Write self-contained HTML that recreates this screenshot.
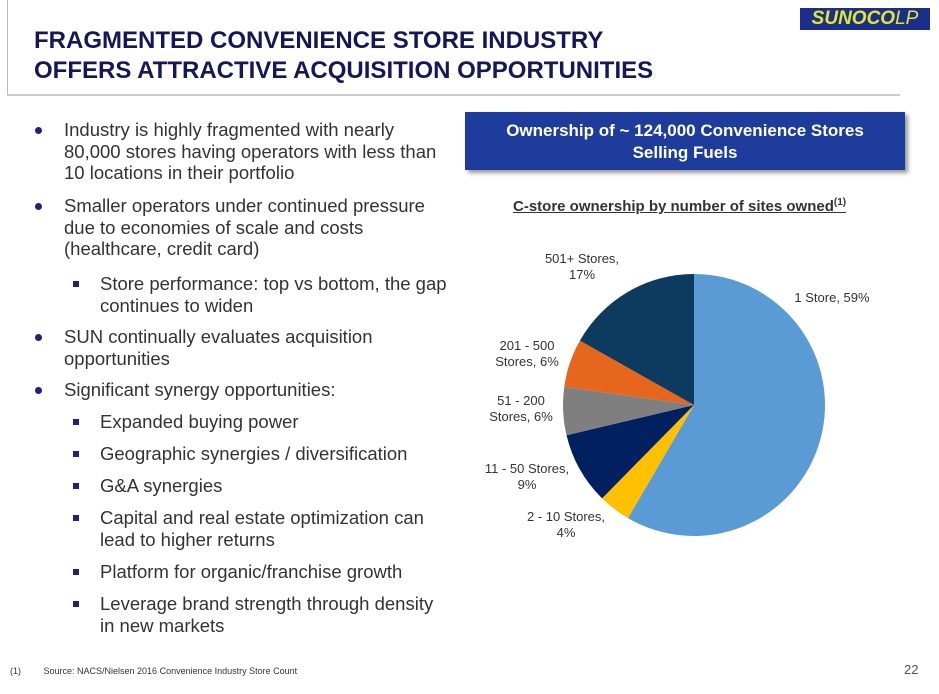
<!DOCTYPE html>
<html><head><meta charset="utf-8"><style>
body{margin:0;width:939px;height:694px;background:#fff;position:relative;overflow:hidden;font-family:"Liberation Sans",sans-serif}
.a{position:absolute;white-space:nowrap}
.t{font-size:18.5px;color:#333;line-height:21.5px}
.h{font-weight:bold;font-size:24px;color:#14185a}
.b{position:absolute;width:7px;height:7px;border-radius:50%;background:#1a237e}
.s{position:absolute;width:6px;height:6px;background:#1a237e}
</style></head><body>
<div class="a" style="left:7px;top:0;width:1px;height:95px;background:#bbb"></div>
<div class="a" style="left:7px;top:94px;width:893px;height:2px;background:#ccc"></div>
<div class="a h" style="left:34px;top:27px">FRAGMENTED CONVENIENCE STORE INDUSTRY</div>
<div class="a h" style="left:34px;top:57px">OFFERS ATTRACTIVE ACQUISITION OPPORTUNITIES</div>
<div class="a" style="left:800px;top:8px;width:130px;height:22px;background:#1c2e8c;color:#e2e82a;font-weight:bold;font-style:italic;font-size:19px;line-height:22px;text-align:center">SUNOCO<span style="font-weight:normal">LP</span></div>

<div>
<div class="b" style="left:35px;top:127px"></div>
<div class="a t" style="left:64px;top:119px">Industry is highly fragmented with nearly<br>80,000 stores having operators with less than<br>10 locations in their portfolio</div>
<div class="b" style="left:35px;top:203px"></div>
<div class="a t" style="left:64px;top:195px">Smaller operators under continued pressure<br>due to economies of scale and costs<br>(healthcare, credit card)</div>
<div class="s" style="left:73px;top:281px"></div>
<div class="a t" style="left:100px;top:273px">Store performance: top vs bottom, the gap<br>continues to widen</div>
<div class="b" style="left:35px;top:334px"></div>
<div class="a t" style="left:64px;top:326px">SUN continually evaluates acquisition<br>opportunities</div>
<div class="b" style="left:35px;top:387px"></div>
<div class="a t" style="left:64px;top:379px">Significant synergy opportunities:</div>
<div class="s" style="left:73px;top:419px"></div>
<div class="a t" style="left:100px;top:411px">Expanded buying power</div>
<div class="s" style="left:73px;top:451px"></div>
<div class="a t" style="left:100px;top:443px">Geographic synergies / diversification</div>
<div class="s" style="left:73px;top:483px"></div>
<div class="a t" style="left:100px;top:475px">G&amp;A synergies</div>
<div class="s" style="left:73px;top:515px"></div>
<div class="a t" style="left:100px;top:507px">Capital and real estate optimization can<br>lead to higher returns</div>
<div class="s" style="left:73px;top:569px"></div>
<div class="a t" style="left:100px;top:561px">Platform for organic/franchise growth</div>
<div class="s" style="left:73px;top:601px"></div>
<div class="a t" style="left:100px;top:593px">Leverage brand strength through density<br>in new markets</div>
</div>

<div class="a" style="left:465px;top:112px;width:440px;height:58px;background:#1d3c9c;box-shadow:3px 3px 4px #999;color:#fff;font-weight:bold;font-size:17px;line-height:22px;text-align:center;padding-top:8px;box-sizing:border-box">Ownership of ~ 124,000 Convenience Stores<br>Selling Fuels</div>
<div class="a" style="left:513px;top:197px;font-size:15px;font-weight:bold;color:#333;text-decoration:underline">C-store ownership by number of sites owned<sup style="font-size:10px">(1)</sup></div>

<svg class="a" style="left:0;top:0" width="939" height="694" id="pie"></svg>

<div class="a" style="left:10px;top:666px;font-size:9px;color:#333">(1)&nbsp;&nbsp;&nbsp;&nbsp;&nbsp;&nbsp;&nbsp;&nbsp;&nbsp;Source: NACS/Nielsen 2016 Convenience Industry Store Count</div>
<div class="a" style="left:904px;top:662px;font-size:13px;color:#555">22</div>

<script>
const categories=["1 Store","2 - 10 Stores","11 - 50 Stores","51 - 200 Stores","201 - 500 Stores","501+ Stores"];
const values=[59,4,9,6,6,17];
const colors=["#5b9bd5","#ffc000","#002060","#7f7f7f","#e7661e","#0d3a5f"];
const labels=[["1 Store, 59%"],["2 - 10 Stores,","4%"],["11 - 50 Stores,","9%"],["51 - 200","Stores, 6%"],["201 - 500","Stores, 6%"],["501+ Stores,","17%"]];
const labelPos=[[832,302],[566,521],[527,473],[521,405],[527,350],[582,263]];
const svg=document.getElementById('pie');
const NS='http://www.w3.org/2000/svg';
const cx=694,cy=405,r=131;
const total=values.reduce((a,b)=>a+b,0);
let ang=0;
values.forEach((v,i)=>{
  const a0=ang,a1=ang+v/total*2*Math.PI;ang=a1;
  const x0=cx+r*Math.sin(a0),y0=cy-r*Math.cos(a0),x1=cx+r*Math.sin(a1),y1=cy-r*Math.cos(a1);
  const p=document.createElementNS(NS,'path');
  p.setAttribute('d',`M${cx},${cy}L${x0},${y0}A${r},${r} 0 ${a1-a0>Math.PI?1:0} 1 ${x1},${y1}Z`);
  p.setAttribute('fill',colors[i]);
  
  
  svg.appendChild(p);
  const t=document.createElementNS(NS,'text');
  t.setAttribute('x',labelPos[i][0]);t.setAttribute('y',labelPos[i][1]);
  t.setAttribute('text-anchor','middle');t.setAttribute('font-size','13');t.setAttribute('fill','#333');
  t.setAttribute('font-family','Liberation Sans, sans-serif');
  
  
  labels[i].forEach((l,k)=>{const s=document.createElementNS(NS,'tspan');s.setAttribute('x',labelPos[i][0]);s.setAttribute('dy',k?16:0);s.textContent=l;t.appendChild(s);});
  svg.appendChild(t);
});
</script>
</body></html>
